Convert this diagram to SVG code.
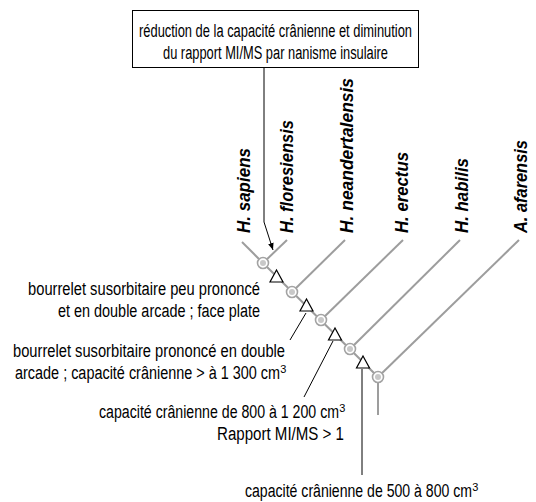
<svg xmlns="http://www.w3.org/2000/svg" width="536" height="502" viewBox="0 0 536 502">
<style>
text{font-family:"Liberation Sans",Arial,sans-serif;font-size:19px;fill:#000}
.lab{font-weight:bold;font-style:italic;font-size:19px}
.br{stroke:#9d9d9d;stroke-width:2;fill:none}
.ld{stroke:#000;stroke-width:1;fill:none}
.tri{fill:#fff;stroke:#000;stroke-width:1.2}
.nd{fill:#fff;stroke:#a3a3a3;stroke-width:1.6}
.dot{fill:#c8c8c8}
.sup{font-size:11px}
</style>
<defs>
<marker id="ah" viewBox="0 0 10 10" refX="10" refY="5" markerWidth="7" markerHeight="7" orient="auto" markerUnits="userSpaceOnUse">
<path d="M0,1 L10,5 L0,9 Z" fill="#000"/>
</marker>
</defs>
<g id="connectors">
<path class="br" d="M263,263 L378,377 L378,415"/>
<path class="br" d="M263,263 L242,242"/>
<path class="br" d="M263,263 L287,240"/>
<path class="br" d="M292,292 L345,240"/>
<path class="br" d="M321,320 L403,240"/>
<path class="br" d="M350,349 L460,240"/>
<path class="br" d="M378,377 L519,240"/>
<path class="ld" d="M264,68 L264,222 L273,250" marker-end="url(#ah)"/>
<path class="ld" d="M290,340 L306,313"/>
<path class="ld" d="M304,397 L333,341"/>
<path class="ld" d="M362,369 L362,475"/>
</g>
<g id="box">
<rect x="132.5" y="10.5" width="286" height="57" fill="#fff" stroke="#000" stroke-width="1"/>
<text transform="translate(275.5,37) scale(0.78,1)" text-anchor="middle" textLength="350" lengthAdjust="spacingAndGlyphs">réduction de la capacité crânienne et diminution</text>
<text transform="translate(275.5,59) scale(0.78,1)" text-anchor="middle" textLength="288.5" lengthAdjust="spacingAndGlyphs">du rapport MI/MS par nanisme insulaire</text>
</g>
<g id="node1"><circle class="nd" cx="263" cy="263" r="5.5"/><circle class="dot" cx="263" cy="263" r="3"/></g>
<g id="node2"><circle class="nd" cx="292" cy="292" r="5.5"/><circle class="dot" cx="292" cy="292" r="3"/></g>
<g id="node3"><circle class="nd" cx="321" cy="320" r="5.5"/><circle class="dot" cx="321" cy="320" r="3"/></g>
<g id="node4"><circle class="nd" cx="350" cy="349" r="5.5"/><circle class="dot" cx="350" cy="349" r="3"/></g>
<g id="node5"><circle class="nd" cx="378" cy="377" r="5.5"/><circle class="dot" cx="378" cy="377" r="3"/></g>
<g id="tri1"><path class="tri" d="M276.5,270 L283,282 L270,282 Z"/></g>
<g id="tri2"><path class="tri" d="M306.5,299 L313,311 L300,311 Z"/></g>
<g id="tri3"><path class="tri" d="M335,328 L341.5,340 L328.5,340 Z"/></g>
<g id="tri4"><path class="tri" d="M363,356 L369.5,368 L356.5,368 Z"/></g>
<g id="labels">
<text class="lab" transform="translate(250,233) rotate(-90) scale(0.92,1)" textLength="92.4" lengthAdjust="spacingAndGlyphs">H. sapiens</text>
<text class="lab" transform="translate(293,233) rotate(-90) scale(0.92,1)" textLength="122.8" lengthAdjust="spacingAndGlyphs">H. floresiensis</text>
<text class="lab" transform="translate(353,233) rotate(-90) scale(0.92,1)" textLength="168.5" lengthAdjust="spacingAndGlyphs">H. neandertalensis</text>
<text class="lab" transform="translate(408,233) rotate(-90) scale(0.92,1)" textLength="88" lengthAdjust="spacingAndGlyphs">H. erectus</text>
<text class="lab" transform="translate(468,233) rotate(-90) scale(0.92,1)" textLength="81.5" lengthAdjust="spacingAndGlyphs">H. habilis</text>
<text class="lab" transform="translate(527,233) rotate(-90) scale(0.92,1)" textLength="101" lengthAdjust="spacingAndGlyphs">A. afarensis</text>
</g>
<g id="char1">
<text transform="translate(260,295) scale(0.78,1)" text-anchor="end" textLength="297.4" lengthAdjust="spacingAndGlyphs">bourrelet susorbitaire peu prononcé</text>
<text transform="translate(260,317) scale(0.78,1)" text-anchor="end" textLength="259" lengthAdjust="spacingAndGlyphs">et en double arcade ; face plate</text>
</g>
<g id="char2">
<text transform="translate(285,357) scale(0.78,1)" text-anchor="end" textLength="348.7" lengthAdjust="spacingAndGlyphs">bourrelet susorbitaire prononcé en double</text>
<text transform="translate(280,379) scale(0.78,1)" text-anchor="end" textLength="339.7" lengthAdjust="spacingAndGlyphs">arcade ; capacité crânienne &gt; à 1 300 cm</text>
<text class="sup" x="280.3" y="373">3</text>
</g>
<g id="char3">
<text transform="translate(339,418) scale(0.78,1)" text-anchor="end" textLength="307.7" lengthAdjust="spacingAndGlyphs">capacité crânienne de 800 à 1 200 cm</text>
<text class="sup" x="339.3" y="412">3</text>
<text transform="translate(344,440) scale(0.78,1)" text-anchor="end" textLength="162.8" lengthAdjust="spacingAndGlyphs">Rapport MI/MS &gt; 1</text>
</g>
<g id="char4">
<text transform="translate(245,497) scale(0.78,1)" textLength="291" lengthAdjust="spacingAndGlyphs">capacité crânienne de 500 à 800 cm</text>
<text class="sup" x="472.3" y="491">3</text>
</g>
</svg>
